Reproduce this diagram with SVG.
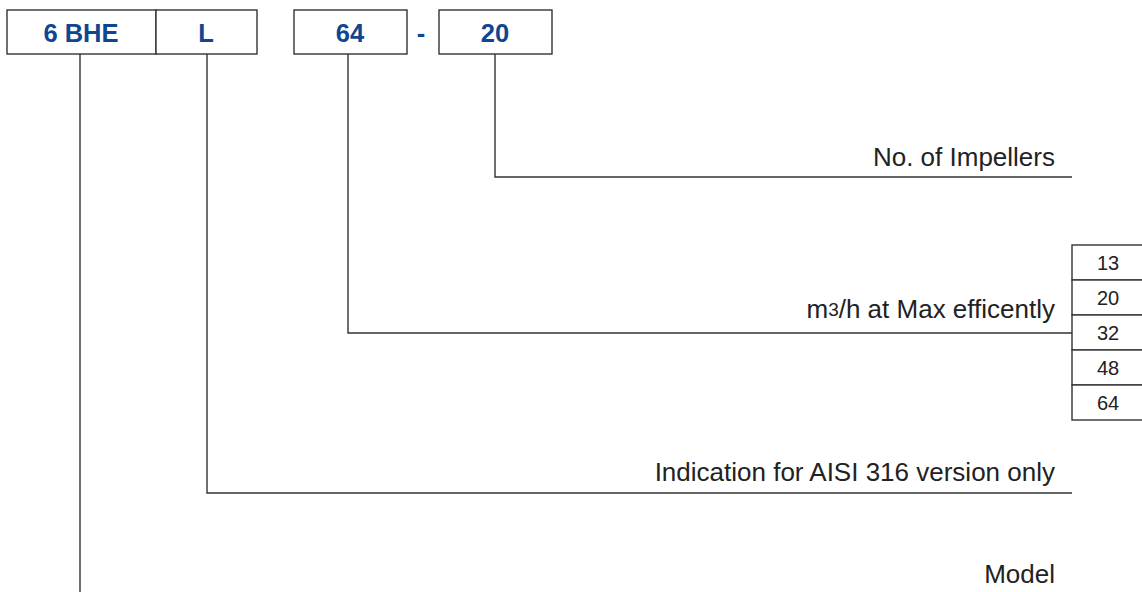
<svg xmlns="http://www.w3.org/2000/svg" width="1142" height="592" viewBox="0 0 1142 592">
<style>
.box{fill:#fff;stroke:#333;stroke-width:1.4}
.code{font-family:"Liberation Sans",Arial,sans-serif;font-weight:bold;font-size:25.5px;fill:#0f468f;text-anchor:middle}
.lbl{font-family:"Liberation Sans",Arial,sans-serif;font-size:26px;fill:#222;text-anchor:end}
.cell{font-family:"Liberation Sans",Arial,sans-serif;font-size:20px;fill:#222;text-anchor:middle}
.ln{fill:none;stroke:#333;stroke-width:1.4}
</style>
<rect width="1142" height="592" fill="#fff"/>
<g id="connectors">
<polyline class="ln" points="80,54 80,592"/>
<polyline class="ln" points="207,54 207,493 1072,493"/>
<polyline class="ln" points="348,54 348,333 1072,333"/>
<polyline class="ln" points="495,54 495,177 1072,177"/>
</g>
<g id="node-model">
<rect class="box" x="7" y="10" width="149" height="44"/>
<text class="code" x="81" y="42">6 BHE</text>
</g>
<g id="node-material">
<rect class="box" x="156" y="10" width="101" height="44"/>
<text class="code" x="206" y="42">L</text>
</g>
<g id="node-flow">
<rect class="box" x="294" y="10" width="113" height="44"/>
<text class="code" x="350" y="42">64</text>
</g>
<text class="code" x="421" y="42">-</text>
<g id="node-stages">
<rect class="box" x="439" y="10" width="113" height="44"/>
<text class="code" x="495" y="42">20</text>
</g>
<g id="label-impellers"><text class="lbl" x="1055" y="166">No. of Impellers</text></g>
<g id="label-flow"><text class="lbl" x="1055" y="318">m<tspan font-size="19" dy="-2">3</tspan><tspan dy="2">/h at Max efficently</tspan></text></g>
<g id="label-aisi"><text class="lbl" x="1055" y="481">Indication for AISI 316 version only</text></g>
<g id="label-model"><text class="lbl" x="1055" y="583">Model</text></g>
<g id="table-flow">
<rect class="box" x="1072" y="245" width="80" height="35"/>
<rect class="box" x="1072" y="280" width="80" height="35"/>
<rect class="box" x="1072" y="315" width="80" height="35"/>
<rect class="box" x="1072" y="350" width="80" height="35"/>
<rect class="box" x="1072" y="385" width="80" height="35"/>
<text class="cell" x="1108" y="270">13</text>
<text class="cell" x="1108" y="305">20</text>
<text class="cell" x="1108" y="340">32</text>
<text class="cell" x="1108" y="375">48</text>
<text class="cell" x="1108" y="410">64</text>
</g>
</svg>
